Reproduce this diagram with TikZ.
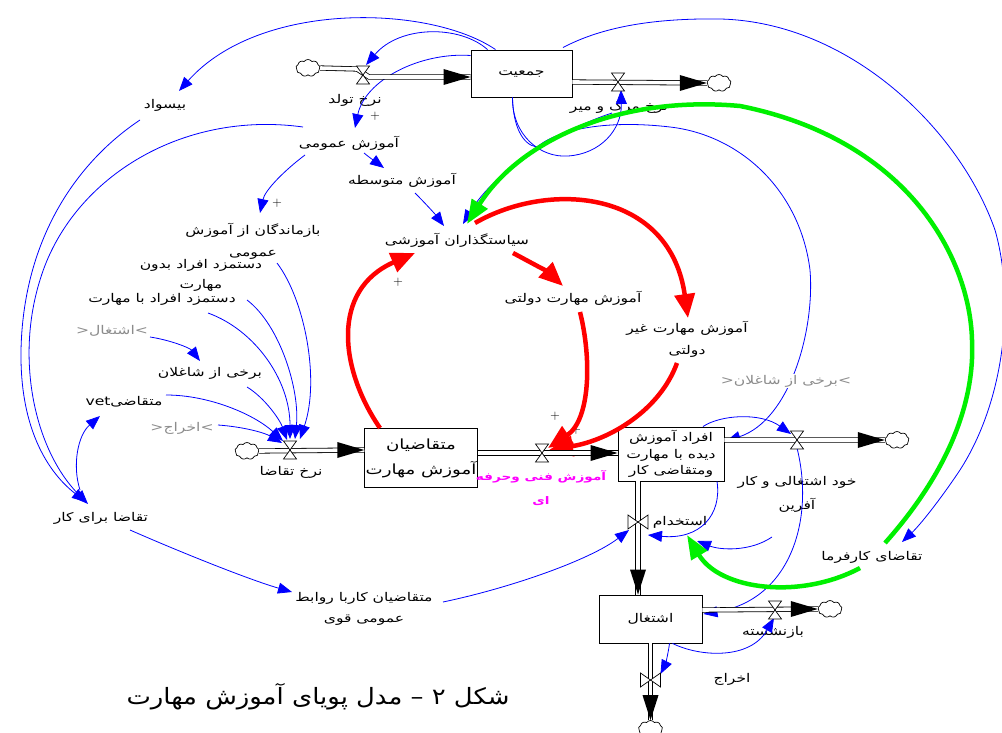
\documentclass[tikz,border=0pt]{standalone}
\usepackage{fontspec}
\usetikzlibrary{arrows.meta,shapes.symbols,calc}
\TeXXeTstate=1
\newfontfamily\fa[Script=Arabic, FakeStretch=1.3]{DejaVu Sans}
\newfontfamily\facap[Script=Arabic, FakeStretch=1.15]{DejaVu Sans}
\newcommand\fr[1]{\beginR #1\endR}
\definecolor{vblue}{HTML}{0000FF}
\definecolor{vred}{HTML}{FF0000}
\definecolor{vgreen}{HTML}{00F000}
\definecolor{vmag}{HTML}{FF00FF}
\definecolor{vgray}{HTML}{8C8C8C}
\tikzset{
  stock/.style={draw, line width=0.9pt, fill=white, inner sep=1pt, align=center},
  lab/.style={inner sep=1pt, align=center},
  shadowlab/.style={inner sep=1pt, text=vgray},
  cloudnode/.style={cloud, draw, line width=0.7pt, cloud puffs=9, cloud puff arc=110, aspect=1.4, minimum width=24pt, minimum height=17pt, inner sep=0pt},
  pipe/.style={draw=black, line width=0.8pt, double=white, double distance=3.6pt},
  blink/.style={draw=vblue, line width=0.8pt, -{Triangle[length=14pt,width=11pt]}},
  rlink/.style={draw=vred, line width=4.5pt, -{Triangle[length=24pt,width=20pt]}},
  glink/.style={draw=vgreen, line width=4.5pt, -{Triangle[length=24pt,width=18pt]}},
  valveshape/.style={draw=black, line width=0.7pt, fill=white},
  plus/.style={inner sep=0pt, font=\rmfamily\fontsize{13}{13}\selectfont}
}
\newcommand\hvalve[1]{\path[valveshape] (#1) -- ++(-6.5,-9) -- ++(13,0) -- cycle (#1) -- ++(-6.5,9) -- ++(13,0) -- cycle;}
\newcommand\vvalve[1]{\path[valveshape] (#1) -- ++(-10,-7) -- ++(0,14) -- cycle (#1) -- ++(10,-7) -- ++(0,14) -- cycle;}
\newcommand\pipeR[1]{\fill (#1) -- ++(-27,-8) -- ++(0,16) -- cycle;}
\newcommand\pipeD[1]{\fill (#1) -- ++(-8,-25) -- ++(16,0) -- cycle;}
\begin{document}
\begin{tikzpicture}[x=1pt,y=-1pt, font=\fa\fontsize{12}{14}\selectfont]
\useasboundingbox (0,0) rectangle (1002,733);
\fill[white] (0,0) rectangle (1002,733);

% stocks
\node[stock, minimum width=101pt, minimum height=47pt] (pop) at (521.5,73.5) {\fr{جمعیت}};
\node[stock, minimum width=108pt, minimum height=59pt, font=\fa\fontsize{14}{25}\selectfont] (app) at (421,458) {\fr{متقاضیان}\\\fr{آموزش مهارت}};
\node[stock, minimum width=106pt, minimum height=54pt, font=\fa\fontsize{12}{16.5}\selectfont] (trn) at (671,454) {\fr{افراد آموزش}\\\fr{دیده با مهارت}\\\fr{ومتقاضی کار}};
\node[stock, minimum width=103pt, minimum height=48pt] (emp) at (650.5,619) {\fr{اشتغال}};

% clouds
\node[cloudnode] (c1) at (308,68) {};
\node[cloudnode] (c2) at (719,83) {};
\node[cloudnode] (c3) at (247,451) {};
\node[cloudnode] (c4) at (897,440) {};
\node[cloudnode] (c5) at (830,609) {};
\node[cloudnode] (c6) at (650.5,729) {};

% valves
\coordinate (v1) at (363,75);
\coordinate (v2) at (618,82);
\coordinate (v3) at (290,450);
\coordinate (v4) at (542,453);
\coordinate (v5) at (797,440);
\coordinate (v6) at (638,522);
\coordinate (v7) at (775,610);
\coordinate (v8) at (650.5,680);

% labels
\node[lab] (Lbirth) at (355,100) {\fr{نرخ تولد}};
\node[lab] (Ldeath) at (619,107) {\fr{نرخ مرگ و میر}};
\node[lab] (illit) at (165,105) {\fr{بیسواد}};
\node[lab] (gen) at (349,143) {\fr{آموزش عمومی}};
\node[lab] (sec) at (402,180) {\fr{آموزش متوسطه}};
\node[lab, font=\fa\fontsize{12}{22}\selectfont] (drop) at (253,241) {\fr{بازماندگان از آموزش}\\\fr{عمومی}};
\node[lab] (pol) at (457,240) {\fr{سیاستگذاران آموزشی}};
\node[lab, font=\fa\fontsize{12}{20}\selectfont] (wnos) at (201,275) {\fr{دستمزد افراد بدون}\\\fr{مهارت}};
\node[lab] (wsk) at (162,299) {\fr{دستمزد افراد با مهارت}};
\node[shadowlab] (shEmp) at (112,331) {<\fr{اشتغال}>};
\node[lab] (some) at (210,373) {\fr{برخی از شاغلان}};
\node[lab] (vet) at (124,402) {\fr{متقاضی\beginL vet\endL}};
\node[shadowlab] (shFire) at (182,428) {<\fr{اخراج}>};
\node[lab] (Ldem) at (291,472) {\fr{نرخ تقاضا}};
\node[lab] (dfw) at (101,518) {\fr{تقاضا برای کار}};
\node[lab, font=\fa\fontsize{12}{21}\selectfont] (pr) at (364,609) {\fr{متقاضیان کاربا روابط}\\\fr{عمومی قوی}};
\node[lab] (gov) at (573,298) {\fr{آموزش مهارت دولتی}};
\node[lab, font=\fa\fontsize{12}{22}\selectfont] (ngov) at (687,339) {\fr{آموزش مهارت غیر}\\\fr{دولتی}};
\node[lab, text=vmag, font=\fa\bfseries\fontsize{10.5}{24}\selectfont] (Ltv) at (541,488) {\fr{آموزش فنی وحرفه}\\\fr{ای}};
\node[lab, font=\fa\fontsize{12}{24}\selectfont] (self) at (797,494) {\fr{خود اشتغالی و کار}\\\fr{آفرین}};
\node[lab] (Lhire) at (680,522) {\fr{استخدام}};
\node[lab] (empd) at (872,557) {\fr{تقاضای کارفرما}};
\node[lab] (Lret) at (773,632) {\fr{بازنشسته}};
\node[lab] (Lfire) at (732,679) {\fr{اخراج}};
\node[lab, font=\facap\fontsize{22.5}{26}\selectfont] (cap) at (318,697) {\fr{شکل ۲ – مدل پویای آموزش مهارت}};

% plus signs
\node[plus] (pl1) at (375,116) {+};
\node[plus] (pl2) at (277,203) {+};
\node[plus] (pl3) at (398,282) {+};
\node[plus] (pl4) at (555,416) {+};
\node[plus] (pl5) at (576,430) {+};

% blue connectors
\draw[blink] ($(pop.north)+(-26,0)$) .. controls (430,5) and (260,0) .. ($(illit)+(14,-14)$);
\draw[blink] ($(pop.north)+(-34,0)$) .. controls (460,25) and (400,25) .. ($(v1)+(3,-10)$);
\draw[blink] ($(pop.west)+(0,-18)$) .. controls (420,52) and (365,80) .. ($(gen)+(6,-15)$);
\draw[blink] ($(pop.south)+(-9,0)$) .. controls (512,135) and (540,158) .. (568,156) .. controls (600,154) and (622,130) .. ($(v2)+(3,8)$);
\draw[blink] ($(pop.north)+(41.5,-2)$) .. controls (600,28) and (650,18) .. (720,19) .. controls (850,22) and (960,130) .. (995,230) .. controls (1015,300) and (1005,400) .. (960,470) .. controls (940,500) and (920,525) .. ($(empd)+(30,-15)$);
\draw[blink] ($(pop.south)+(-9,0)$) .. controls (513,125) and (522,145) .. (537,147) .. controls (560,128) and (610,120) .. (670,127) .. controls (740,135) and (800,190) .. (810,270) .. controls (815,330) and (790,420) .. ($(trn.east)+(2,-13)$);
\draw[blink] ($(gen)+(-44,12)$) .. controls (285,170) and (265,190) .. ($(drop)+(7,-28)$);
\draw[blink] ($(gen)+(15,10)$) .. controls (370,158) and (376,162) .. ($(sec)+(-18,-12)$);
\draw[blink] ($(gen)+(-46,-16)$) .. controls (180,110) and (70,180) .. (40,280) .. controls (15,360) and (35,450) .. ($(dfw)+(-13,-14)$);
\draw[blink] ($(illit)+(-25,15)$) .. controls (80,160) and (30,230) .. (22,330) .. controls (15,420) and (45,470) .. ($(dfw)+(-15,-16)$);
\draw[blink] ($(dfw)+(-21,-28)$) .. controls (72,465) and (78,435) .. ($(vet)+(-24,14)$);
\draw[blink] ($(drop)+(24,22)$) .. controls (305,300) and (320,380) .. ($(v3)+(10,-11)$);
\draw[blink] ($(wnos)+(46,25)$) .. controls (280,325) and (300,390) .. ($(v3)+(5,-11)$);
\draw[blink] ($(wsk)+(46,14)$) .. controls (255,330) and (290,380) .. ($(v3)+(0,-11)$);
\draw[blink] ($(some)+(37,14)$) .. controls (265,398) and (280,420) .. ($(v3)+(-3,-10)$);
\draw[blink] ($(vet)+(42,-7)$) .. controls (210,395) and (255,415) .. ($(v3)+(-7,-9)$);
\draw[blink] ($(shFire)+(36,-3)$) .. controls (245,427) and (265,433) .. ($(v3)+(-8,-7)$);
\draw[blink] ($(shEmp)+(38,6)$) .. controls (170,340) and (190,348) .. ($(some)+(-10,-12)$);
\draw[blink] ($(sec)+(13,13)$) .. controls (425,203) and (435,214) .. ($(pol)+(-13,-14)$);
\draw[blink] ($(Ldeath)+(-7,6)$) .. controls (560,130) and (495,170) .. ($(pol)+(6,-16)$);
\draw[blink] ($(trn.north)+(32,0)$) .. controls (720,415) and (760,412) .. ($(v5)+(-6,-6)$);
\draw[blink] ($(trn.south)+(46,0)$) .. controls (722,515) and (700,540) .. ($(v6)+(10,13)$);
\draw[blink] ($(self)+(-25,43)$) .. controls (750,552) and (720,550) .. ($(Lhire)+(17,19)$);
\draw[blink] ($(pr)+(79,-7)$) .. controls (510,588) and (590,560) .. ($(v6)+(-9,8)$);
\draw[blink] ($(dfw)+(29,12)$) .. controls (180,552) and (250,580) .. ($(pr)+(-72,-17)$);
\draw[blink] ($(emp.south)+(22,0)$) .. controls (700,657) and (750,660) .. ($(v7)+(-1,8)$);
\draw[blink] ($(emp.south)+(19,0)$) .. controls (668,655) and (665,665) .. ($(v8)+(10,-6)$);
\draw[blink] ($(v5)+(0,8)$) .. controls (815,520) and (790,600) .. ($(emp.east)+(1,-5)$);

% red connectors
\draw[rlink] ($(app.north)+(-41,0)$) .. controls (340,370) and (330,290) .. ($(pol)+(-42,13)$);
\draw[rlink] ($(pol)+(56,13)$) .. controls (530,262) and (548,272) .. ($(gov)+(-10,-12)$);
\draw[rlink] ($(pol)+(18,-17)$) .. controls (550,180) and (670,190) .. ($(ngov)+(1,-21)$);
\draw[rlink] ($(gov)+(7,14)$) .. controls (592,360) and (590,420) .. ($(v4)+(6,-5)$);
\draw[rlink] ($(ngov)+(-10,24)$) .. controls (660,410) and (610,440) .. ($(v4)+(7,-3)$);

% green connectors
\draw[glink] ($(empd)+(13,-14)$) .. controls (950,470) and (975,400) .. (972,340) .. controls (970,260) and (910,140) .. (740,106) .. controls (620,95) and (520,140) .. ($(pol)+(10,-16)$);
\draw[glink] ($(empd)+(-12,11)$) .. controls (800,600) and (720,590) .. ($(Lhire)+(7,13)$);

% pipes
\draw[pipe] (c1.east) -- ($(v1)+(-6,-6)$) -- ($(v1)+(6,2)$) -- ($(pop.west)+(0,3.5)$);
\draw[pipe] ($(pop.east)+(0,8.5)$) -- (c2.west);
\draw[pipe] (c3.east) -- ($(app.west)+(0,-8)$);
\draw[pipe] ($(app.east)+(0,-5)$) -- ($(trn.west)+(0,-1)$);
\draw[pipe] ($(trn.east)+(0,-14)$) -- (c4.west);
\draw[pipe] ($(trn.south)+(-33,0)$) -- ($(emp.north)+(-12.5,0)$);
\draw[pipe] ($(emp.east)+(0,-9)$) -- (c5.west);
\draw[pipe] (emp.south) -- (c6.north);
\pipeR{$(pop.west)+(0,3.5)$}
\pipeR{c2.west}
\pipeR{$(app.west)+(0,-8)$}
\pipeR{$(trn.west)+(0,-1)$}
\pipeR{c4.west}
\pipeD{$(emp.north)+(-12.5,0)$}
\pipeR{c5.west}
\pipeD{c6.north}
\hvalve{v1}
\hvalve{v2}
\hvalve{v3}
\hvalve{v4}
\hvalve{v5}
\vvalve{v6}
\hvalve{v7}
\vvalve{v8}

\node[shadowlab, fill=white] (shSome) at (786,381) {<\fr{برخی از شاغلان}>};
\end{tikzpicture}
\end{document}
